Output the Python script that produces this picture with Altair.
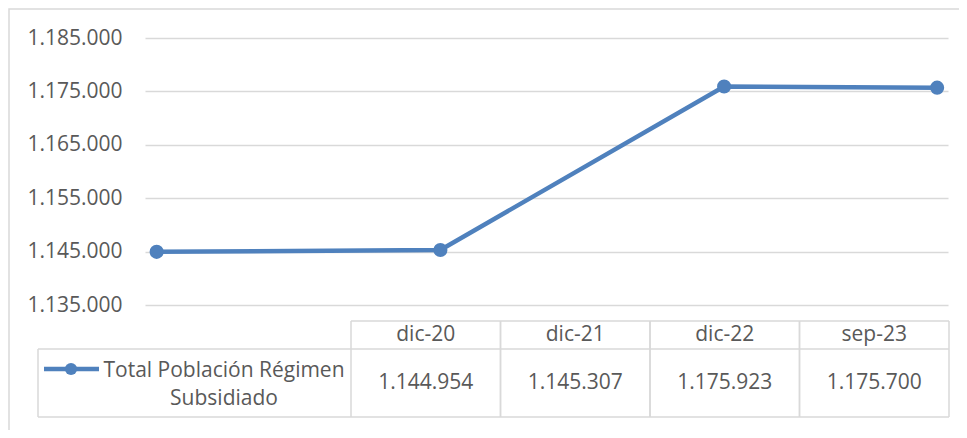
import altair as alt
import pandas as pd

# ---- data ----
categories = ["dic-20", "dic-21", "dic-22", "sep-23"]
dates = ["2020-12-01", "2021-12-01", "2022-12-01", "2023-09-01"]
values = [1144954, 1145307, 1175923, 1175700]
series_label = ["Total Población Régimen", "Subsidiado"]
title_text = "Gráfico 1. Número de personas afiliadas en Régimen Subsidiado"
y_ticks = [1135000, 1145000, 1155000, 1165000, 1175000, 1185000]

# ---- layout / style ----
W, H = 803, 267
PAD = {"left": 137, "top": 30, "right": 11, "bottom": 125}
BLUE = "#4F81BD"
GRID = "#D9D9D9"
TXT = "#595959"
FONT = "Open Sans"
FS = 21

df = pd.DataFrame({"cat": categories, "date": dates, "value": values,
                   "col": list(range(len(categories)))})
one = pd.DataFrame({"label": ["\n".join(series_label)], "title": [title_text]})

x_time = alt.X(
    "date:T",
    scale=alt.Scale(
        type="utc",
        domain=[alt.DateTime(year=2020, month=11, date=16, utc=True),
                alt.DateTime(year=2023, month=9, date=15, utc=True)],
    ),
    axis=None,
)
y_val = alt.Y(
    "value:Q",
    scale=alt.Scale(domain=[1135000, 1185000], nice=False, zero=False),
    axis=alt.Axis(values=y_ticks, format=",d", labelPadding=23, ticks=False,
                  domain=False, gridColor=GRID, gridWidth=1.5, labelColor=TXT,
                  labelFont=FONT, labelFontSize=FS, title=None),
)

frame = alt.Chart(one).mark_rect(fill=None, stroke=GRID, strokeWidth=1.5).encode(
    x=alt.value(-136), x2=alt.value(830), y=alt.value(-29), y2=alt.value(400))

title = alt.Chart(one).mark_text(font="Liberation Sans", fontSize=17, fontWeight="bold",
                                 color="#000000", baseline="alphabetic").encode(
    x=alt.value(336), y=alt.value(-34), text="title:N")

line = alt.Chart(df).mark_line(color=BLUE, strokeWidth=4.5).encode(x=x_time, y=y_val)
points = alt.Chart(df).mark_point(filled=True, size=200, color=BLUE, opacity=1).encode(
    x=x_time, y=y_val)

# ---- data table ----
xs = alt.Scale(domain=[0, 4], range=[206, 804])
tbase = alt.Chart(df).transform_calculate(mid="datum.col + 0.5", right="datum.col + 1")

vlines = tbase.mark_rule(color=GRID, strokeWidth=1.5).encode(
    x=alt.X("col:Q", scale=xs, axis=None), y=alt.value(283), y2=alt.value(379))
vlines_r = tbase.mark_rule(color=GRID, strokeWidth=1.5).encode(
    x=alt.X("right:Q", scale=xs, axis=None), y=alt.value(283), y2=alt.value(379))
h_top = alt.Chart(one).mark_rule(color=GRID, strokeWidth=1.5).encode(
    x=alt.value(206), x2=alt.value(804), y=alt.value(283))
h_mid = alt.Chart(one).mark_rule(color=GRID, strokeWidth=1.5).encode(
    x=alt.value(-107), x2=alt.value(804), y=alt.value(311))
h_bot = alt.Chart(one).mark_rule(color=GRID, strokeWidth=1.5).encode(
    x=alt.value(-107), x2=alt.value(804), y=alt.value(379))
v_left = alt.Chart(one).mark_rule(color=GRID, strokeWidth=1.5).encode(
    x=alt.value(-107), y=alt.value(311), y2=alt.value(379))

head_txt = tbase.mark_text(font=FONT, fontSize=FS, color=TXT, baseline="middle").encode(
    x=alt.X("mid:Q", scale=xs, axis=None), y=alt.value(297), text="cat:N")
body_txt = tbase.mark_text(font=FONT, fontSize=FS, color=TXT, baseline="middle").encode(
    x=alt.X("mid:Q", scale=xs, axis=None), y=alt.value(345),
    text=alt.Text("value:Q", format=",d"))

leg_line = alt.Chart(one).mark_rule(color=BLUE, strokeWidth=4.5).encode(
    x=alt.value(-101), x2=alt.value(-46), y=alt.value(331))
leg_pt = alt.Chart(one).mark_point(filled=True, size=150, color=BLUE, opacity=1).encode(
    x=alt.value(-74), y=alt.value(331))
leg_txt = alt.Chart(one).mark_text(font=FONT, fontSize=FS, color=TXT, align="center",
                                   baseline="alphabetic", lineBreak="\n",
                                   lineHeight=28).encode(
    x=alt.value(79), y=alt.value(339), text="label:N")

chart = alt.layer(
    frame, title, line, points, vlines, vlines_r, h_top, h_mid, h_bot, v_left,
    head_txt, body_txt, leg_line, leg_pt, leg_txt,
).resolve_scale(x="independent").properties(
    width=W, height=H, padding=PAD, autosize=alt.AutoSizeParams(type="none"),
).configure(
    locale={"number": {"decimal": ",", "thousands": ".", "grouping": [3],
                       "currency": ["$", ""]}}
).configure_view(strokeWidth=0)

chart.save("out.html", embed_options={"renderer": "svg", "actions": False})
